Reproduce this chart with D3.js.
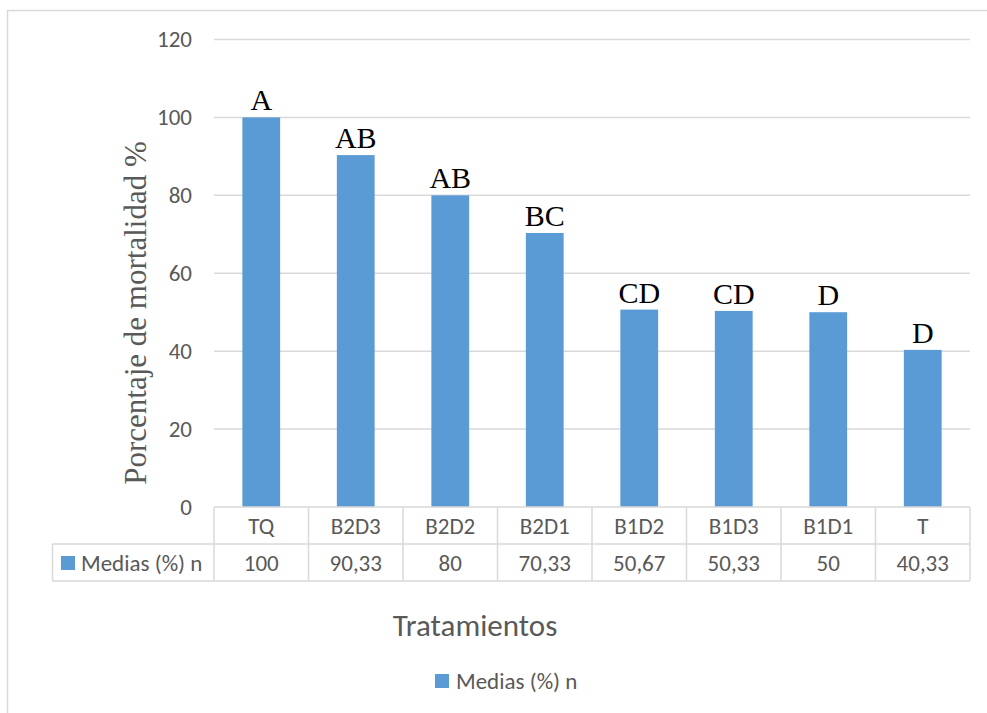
<!DOCTYPE html>
<html>
<head>
<meta charset="utf-8">
<script src="https://cdn.jsdelivr.net/npm/d3@7"></script>
<style>
  html, body { margin: 0; padding: 0; background: #fff; }
  svg { display: block; }
</style>
</head>
<body>
<svg id="chart" width="987" height="713"></svg>
<script>
const categories = ["TQ", "B2D3", "B2D2", "B2D1", "B1D2", "B1D3", "B1D1", "T"];
const values = [100, 90.33, 80, 70.33, 50.67, 50.33, 50, 40.33];
const valueLabels = ["100", "90,33", "80", "70,33", "50,67", "50,33", "50", "40,33"];
const letters = ["A", "AB", "AB", "BC", "CD", "CD", "D", "D"];
const yTicks = [0, 20, 40, 60, 80, 100, 120];
const seriesName = "Medias (%) n";
const yTitle = "Porcentaje de mortalidad %";
const xTitle = "Tratamientos";

const svg = d3.select("#chart");
const grid = "#d9d9d9";
const textCol = "#595959";
const barCol = "#5b9bd5";
const sans = "Calibri, Carlito, 'Open Sans', sans-serif";
const serif = "'Liberation Serif', 'Times New Roman', serif";

// outer frame
svg.append("rect").attr("x", 7.5).attr("y", 10.5).attr("width", 990).attr("height", 720)
  .attr("fill", "none").attr("stroke", grid).attr("stroke-width", 1.5);

const pLeft = 214, pRight = 970, pTop = 39.5, pBottom = 507;
const x = d3.scaleBand().domain(categories).range([pLeft, pRight]).paddingInner(0.6).paddingOuter(0.3);
const xCell = d3.scaleBand().domain(categories).range([pLeft, pRight]).padding(0);
const y = d3.scaleLinear().domain([0, 120]).range([pBottom, pTop]);

// gridlines
svg.append("g").selectAll("line").data(yTicks.filter(d => d > 0)).join("line")
  .attr("x1", pLeft).attr("x2", pRight)
  .attr("y1", d => y(d)).attr("y2", d => y(d))
  .attr("stroke", grid).attr("stroke-width", 1.5);

// y axis labels
const yAxis = d3.axisLeft(y).tickValues(yTicks).tickSize(0).tickPadding(22);
const ya = svg.append("g").attr("transform", `translate(${pLeft},0)`).call(yAxis);
ya.select(".domain").remove();
ya.selectAll("text").attr("font-family", sans).attr("font-size", 23).attr("fill", textCol);

// bars
svg.append("g").selectAll("rect").data(categories).join("rect")
  .attr("x", d => x(d)).attr("width", x.bandwidth())
  .attr("y", (d, i) => y(values[i])).attr("height", (d, i) => y(0) - y(values[i]))
  .attr("fill", barCol);

// letters
svg.append("g").selectAll("text").data(categories).join("text")
  .attr("x", d => x(d) + x.bandwidth() / 2)
  .attr("y", (d, i) => y(values[i]) - 7)
  .attr("text-anchor", "middle")
  .attr("font-family", serif).attr("font-size", 30).attr("fill", "#000")
  .text((d, i) => letters[i]);

// data table
const row1 = pBottom, row2 = 544, row3 = 581, legLeft = 52.5;
const tg = svg.append("g").attr("stroke", grid).attr("stroke-width", 1.5);
tg.append("line").attr("x1", pLeft).attr("x2", pRight).attr("y1", row1).attr("y2", row1);
tg.append("line").attr("x1", legLeft).attr("x2", pRight).attr("y1", row2).attr("y2", row2);
tg.append("line").attr("x1", legLeft).attr("x2", pRight).attr("y1", row3).attr("y2", row3);
tg.append("line").attr("x1", legLeft).attr("x2", legLeft).attr("y1", row2).attr("y2", row3);
const bounds = categories.map(d => xCell(d)).concat([pRight]);
tg.selectAll("line.v").data(bounds).join("line").attr("class", "v")
  .attr("x1", d => d).attr("x2", d => d).attr("y1", row1).attr("y2", row3);

svg.append("g").selectAll("text").data(categories).join("text")
  .attr("x", d => xCell(d) + xCell.bandwidth() / 2).attr("y", (row1 + row2) / 2)
  .attr("dy", "0.35em").attr("text-anchor", "middle")
  .attr("font-family", sans).attr("font-size", 23).attr("fill", textCol)
  .text(d => d);
svg.append("g").selectAll("text").data(categories).join("text")
  .attr("x", d => xCell(d) + xCell.bandwidth() / 2).attr("y", (row2 + row3) / 2)
  .attr("dy", "0.35em").attr("text-anchor", "middle")
  .attr("font-family", sans).attr("font-size", 23).attr("fill", textCol)
  .text((d, i) => valueLabels[i]);

// legend key inside table
svg.append("rect").attr("x", 61).attr("y", 556).attr("width", 14).attr("height", 14).attr("fill", barCol);
svg.append("text").attr("x", 81).attr("y", (row2 + row3) / 2).attr("dy", "0.35em")
  .attr("font-family", sans).attr("font-size", 23).attr("fill", textCol).text(seriesName);

// axis titles
svg.append("text").attr("transform", "translate(135,313) rotate(-90)")
  .attr("text-anchor", "middle").attr("dy", "0.35em")
  .attr("font-family", serif).attr("font-size", 31).attr("fill", textCol).text(yTitle);
svg.append("text").attr("x", 475).attr("y", 625).attr("dy", "0.35em").attr("text-anchor", "middle")
  .attr("font-family", sans).attr("font-size", 31).attr("fill", textCol).text(xTitle);

// bottom legend
svg.append("rect").attr("x", 435).attr("y", 674).attr("width", 14).attr("height", 14).attr("fill", barCol);
svg.append("text").attr("x", 456).attr("y", 681).attr("dy", "0.35em")
  .attr("font-family", sans).attr("font-size", 23).attr("fill", textCol).text(seriesName);
</script>
</body>
</html>
